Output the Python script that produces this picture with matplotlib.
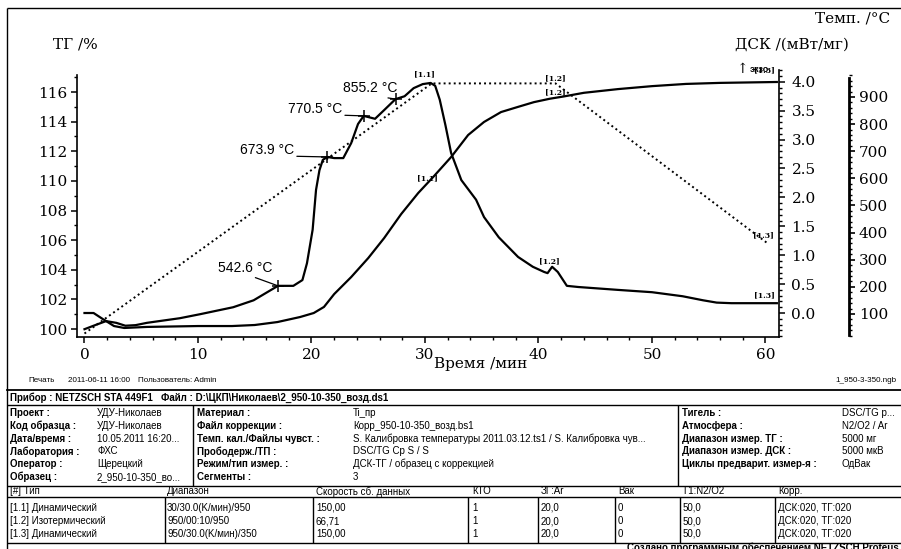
import matplotlib
matplotlib.use("Agg")
import matplotlib.pyplot as plt
from matplotlib.ticker import MultipleLocator, FormatStrFormatter

# ---- data ----
# DSC curve, mW/mg (exo up)
t_dsc = [0.0, 0.8, 1.9, 2.8, 3.6, 4.5, 5.5, 8.4, 10.2, 13.1, 14.9, 16.1, 17.05,
         18.4, 19.2, 19.6, 20.1, 20.4, 20.7, 21.0, 21.4, 22.0, 22.8, 23.5, 24.1,
         24.6, 25.6, 26.4, 27.4, 28.2, 29.0, 29.8, 30.5, 30.9, 31.3, 31.8, 32.3,
         33.2, 34.5, 35.2, 36.5, 38.2, 39.5, 40.5, 40.8, 41.2, 41.7, 42.5, 43.5,
         47.0, 50.0, 52.7, 54.5, 55.7, 57.0, 61.0]
dsc = [-0.28, -0.22, -0.14, -0.17, -0.22, -0.21, -0.17, -0.09, -0.02, 0.10, 0.22,
       0.36, 0.47, 0.47, 0.57, 0.86, 1.44, 2.13, 2.47, 2.65, 2.70, 2.68, 2.68,
       2.94, 3.27, 3.41, 3.36, 3.51, 3.70, 3.75, 3.89, 3.96, 3.98, 3.93, 3.69,
       3.25, 2.77, 2.30, 1.96, 1.66, 1.31, 0.97, 0.80, 0.71, 0.69, 0.80, 0.71,
       0.47, 0.45, 0.40, 0.36, 0.29, 0.22, 0.18, 0.17, 0.17]

# TG curve, %
t_tg = [0.0, 0.8, 1.6, 2.6, 3.5, 5.5, 10.0, 13.0, 15.0, 17.0, 19.0, 20.2, 21.1,
        22.0, 23.5, 25.0, 26.4, 27.9, 29.4, 30.8, 32.3, 33.8, 35.2, 36.7, 38.2,
        39.6, 41.0, 42.2, 44.0, 47.0, 50.0, 53.0, 56.0, 61.0]
tg = [101.08, 101.08, 100.68, 100.20, 100.07, 100.14, 100.20, 100.20, 100.27,
      100.47, 100.81, 101.08, 101.49, 102.36, 103.51, 104.79, 106.14, 107.76,
      109.18, 110.33, 111.61, 113.10, 113.98, 114.65, 115.00, 115.32, 115.55,
      115.70, 115.95, 116.20, 116.40, 116.55, 116.62, 116.68]

# temperature programme, °C
t_temp = [0.0, 30.6, 41.5, 60.2]
temp = [28, 950, 950, 360]

# marked points on the DSC curve
mark_t = [17.05, 21.37, 24.63, 27.44]
mark_dsc = [0.47, 2.70, 3.41, 3.70]
mark_lbl = ["542.6 °C", "673.9 °C", "770.5 °C", "855.2 °C"]

# info block under the plot
info_left = [("Проект :", "УДУ-Николаев"), ("Код образца :", "УДУ-Николаев"),
             ("Дата/время :", "10.05.2011 16:20..."), ("Лаборатория :", "ФХС"),
             ("Оператор :", "Щерецкий"), ("Образец :", "2_950-10-350_во...")]
info_mid = [("Материал :", "Ti_пр"), ("Файл коррекции :", "Корр_950-10-350_возд.bs1"),
            ("Темп. кал./Файлы чувст. :",
             "S. Калибровка температуры 2011.03.12.ts1 / S. Калибровка чув..."),
            ("Прободерж./ТП :", "DSC/TG Cp S / S"),
            ("Режим/тип измер. :", "ДСК-ТГ / образец с коррекцией"),
            ("Сегменты :", "3")]
info_right = [("Тигель :", "DSC/TG p..."), ("Атмосфера :", "N2/O2 / Ar"),
              ("Диапазон измер. ТГ :", "5000 мг"), ("Диапазон измер. ДСК :", "5000 мкВ"),
              ("Циклы предварит. измер-я :", "OдВак")]
seg_header = ["[#] Тип", "Диапазон", "Скорость сб. данных", "КТО", "ЗГ:Ar", "Вак",
              "Г1:N2/O2", "Корр."]
seg_rows = [["[1.1] Динамический", "30/30.0(K/мин)/950", "150,00", "1", "20,0", "0",
             "50,0", "ДСК:020, ТГ:020"],
            ["[1.2] Изотермический", "950/00:10/950", "66,71", "1", "20,0", "0",
             "50,0", "ДСК:020, ТГ:020"],
            ["[1.3] Динамический", "950/30.0(K/мин)/350", "150,00", "1", "20,0", "0",
             "50,0", "ДСК:020, ТГ:020"]]

W, H = 901, 549
serif = "DejaVu Serif"
sans = "Liberation Sans"

fig = plt.figure(figsize=(W / 100, H / 100), dpi=100)

# background axes in pixel coordinates for frame, titles and table
bg = fig.add_axes([0, 0, 1, 1], zorder=-1)
bg.set_xlim(0, W)
bg.set_ylim(H, 0)
bg.axis("off")


def fx(x):
    return x / W


def fy(y):
    return 1 - y / H


# plot area: x 77..779, y 70..337 (pixels)
ax = fig.add_axes([fx(77), fy(337), fx(779) - fx(77), fy(70) - fy(337)])
ax.set_facecolor("none")
ax.set_xlim(-0.66, 61.19)
ax.set_ylim(99.46, 117.49)

ax2 = ax.twinx()
ax2.set_ylim(-0.415, 4.204)
ax3 = ax.twinx()
ax3.set_ylim(15.2, 999.4)

lw = 1.6
ax2.plot(t_dsc, dsc, color="black", lw=lw, solid_joinstyle="round")
ax.plot(t_tg, tg, color="black", lw=lw, solid_joinstyle="round")
ax3.plot(t_temp, temp, color="black", lw=1.4, linestyle=(0, (1, 1.6)))

# marked temperatures
for t, d in zip(mark_t, mark_dsc):
    ax2.plot(t, d, marker="+", ms=9, mew=1.1, color="black")
offs = [(-33, 11), (-60, 0), (-49, 0), (-26, 4)]
rel = [(0.55, 0.0), (1.0, 0.05), (1.0, 0.05), (0.5, 0.0)]
for t, d, s, o, r in zip(mark_t, mark_dsc, mark_lbl, offs, rel):
    ax2.annotate(s, xy=(t, d), xytext=o, textcoords="offset pixels",
                 ha="center", va="bottom", fontsize=10, family=sans,
                 arrowprops=dict(arrowstyle="-", lw=0.9, color="black",
                                 shrinkA=0, shrinkB=0, relpos=r))

# segment labels
seg_kw = dict(textcoords="offset pixels", ha="center", va="center",
              fontsize=5.5, family=serif, fontweight="bold")
ax2.annotate("[1.1]", xy=(30.6, 3.98), xytext=(-7, 9), **seg_kw)
ax.annotate("[1.1]", xy=(30.6, 110.3), xytext=(-4, -2), **seg_kw)
ax3.annotate("[1.2]", xy=(41.5, 950), xytext=(0, 5), **seg_kw)
ax.annotate("[1.2]", xy=(41.5, 115.6), xytext=(0, 6), **seg_kw)
ax2.annotate("[1.2]", xy=(41.2, 0.80), xytext=(-3, 5), **seg_kw)
ax3.annotate("[1.3]", xy=(60.2, 360), xytext=(-4, 8), **seg_kw)
ax2.annotate("[1.3]", xy=(61.0, 0.17), xytext=(-12, 8), **seg_kw)
ax.annotate("[1.3]", xy=(61.0, 116.68), xytext=(-12, 12), **seg_kw)

# spines and ticks
for a in (ax, ax2, ax3):
    a.spines["top"].set_visible(False)
ax.spines["right"].set_visible(False)
ax3.spines["left"].set_visible(False)
ax2.spines["left"].set_visible(False)
ax2.spines["bottom"].set_visible(False)
ax3.spines["bottom"].set_visible(False)

ax.spines["left"].set_bounds(99.46, 117.15)
ax.spines["left"].set_linewidth(1.2)
ax.spines["bottom"].set_linewidth(1.2)
ax2.spines["right"].set_linewidth(1.2)
ax3.spines["right"].set_position(("outward", 70 * 0.72))
ax3.spines["right"].set_linewidth(2.0)
ax3.spines["right"].set_bounds(22.6, 970)

ax.xaxis.set_major_locator(MultipleLocator(10))
ax.xaxis.set_minor_locator(MultipleLocator(2))
ax.yaxis.set_minor_locator(MultipleLocator(1))
ax.set_yticks([100, 102, 104, 106, 108, 110, 112, 114, 116])
ax2.yaxis.set_minor_locator(MultipleLocator(0.1))
ax2.set_yticks([0.0, 0.5, 1.0, 1.5, 2.0, 2.5, 3.0, 3.5, 4.0])
ax2.yaxis.set_major_formatter(FormatStrFormatter("%.1f"))
ax3.set_yticks([100, 200, 300, 400, 500, 600, 700, 800, 900])
ax3.yaxis.set_minor_locator(MultipleLocator(20))

tick_font = dict(labelsize=11, labelfontfamily=serif)
ax.tick_params(axis="x", which="major", direction="out", length=4, width=1.1, pad=4, **tick_font)
ax.tick_params(axis="x", which="minor", direction="out", length=2.5, width=1)
ax.tick_params(axis="y", which="major", direction="out", length=4, width=1.1, pad=3, **tick_font)
ax.tick_params(axis="y", which="minor", direction="out", length=2.5, width=1)
ax2.tick_params(axis="y", which="major", direction="out", length=4, width=1.1, pad=5, **tick_font)
ax2.tick_params(axis="y", which="minor", direction="out", length=2.5, width=1)
ax3.tick_params(axis="y", which="major", direction="out", length=4, width=1.2, pad=3, **tick_font)
ax3.tick_params(axis="y", which="minor", direction="out", length=2.5, width=1)

# axis titles
bg.text(53, 45, "ТГ /%", ha="left", va="center", fontsize=11, family=serif)
bg.text(890, 18, "Темп. /°C", ha="right", va="center", fontsize=11, family=serif)
bg.text(792, 45, "ДСК /(мВт/мг)", ha="center", va="center", fontsize=11, family=serif)
bg.text(481, 364, "Время /мин", ha="center", va="center", fontsize=11, family=serif)
bg.text(742, 69, "↑", ha="center", va="center", fontsize=10, family=serif)
bg.text(750, 70, "экзо", ha="left", va="center", fontsize=6.5, family=sans, fontweight="bold")

# frame
line_kw = dict(color="black", lw=1.0, solid_capstyle="butt")
bg.plot([7, W], [8, 8], **line_kw)
bg.plot([7, 7], [8, H], **line_kw)

# header line of the report
small = dict(fontsize=5.8, family=sans, va="center")
bg.text(28, 381, "Печать", **small)
bg.text(68, 381, "2011-06-11 16:00", **small)
bg.text(138, 381, "Пользователь: Admin", **small)
bg.text(897, 381, "1_950-3-350.ngb", ha="right", **small)

# table
tk = dict(fontsize=7, family=sans, va="center")
bg.plot([7, W], [390, 390], color="black", lw=1.3)
bg.text(10, 397.5, "Прибор : NETZSCH STA 449F1   Файл : D:\\ЦКП\\Николаев\\2_950-10-350_возд.ds1",
        fontweight="bold", **tk)
bg.plot([7, W], [405, 405], **line_kw)
row_y = [413, 425.8, 438.6, 451.4, 464.2, 477]
for (k, v), y in zip(info_left, row_y):
    bg.text(10, y, k, fontweight="bold", **tk)
    bg.text(97, y, v, **tk)
for (k, v), y in zip(info_mid, row_y):
    bg.text(197, y, k, fontweight="bold", **tk)
    bg.text(353, y, v, **tk)
for (k, v), y in zip(info_right, row_y):
    bg.text(682, y, k, fontweight="bold", **tk)
    bg.text(842, y, v, **tk)
bg.plot([193, 193], [405, 486], **line_kw)
bg.plot([678, 678], [405, 486], **line_kw)
bg.plot([7, W], [486, 486], **line_kw)

col_x = [10, 167, 316, 472, 541, 618, 683, 778]
for x, s in zip(col_x, seg_header):
    bg.text(x, 491.5, s, **tk)
bg.plot([7, W], [497, 497], **line_kw)
seg_y = [508, 521, 534]
for row, y in zip(seg_rows, seg_y):
    for x, s in zip(col_x, row):
        bg.text(x, y, s, **tk)
for x in [165, 313, 468, 538, 615, 680, 775]:
    bg.plot([x, x], [497, 543], **line_kw)
bg.plot([7, W], [543, 543], **line_kw)
bg.text(W - 2, 548, "Создано программным обеспечением NETZSCH Proteus", ha="right",
        va="center", fontsize=7, family=sans, fontweight="bold")

fig.savefig("out.png", dpi=100)
